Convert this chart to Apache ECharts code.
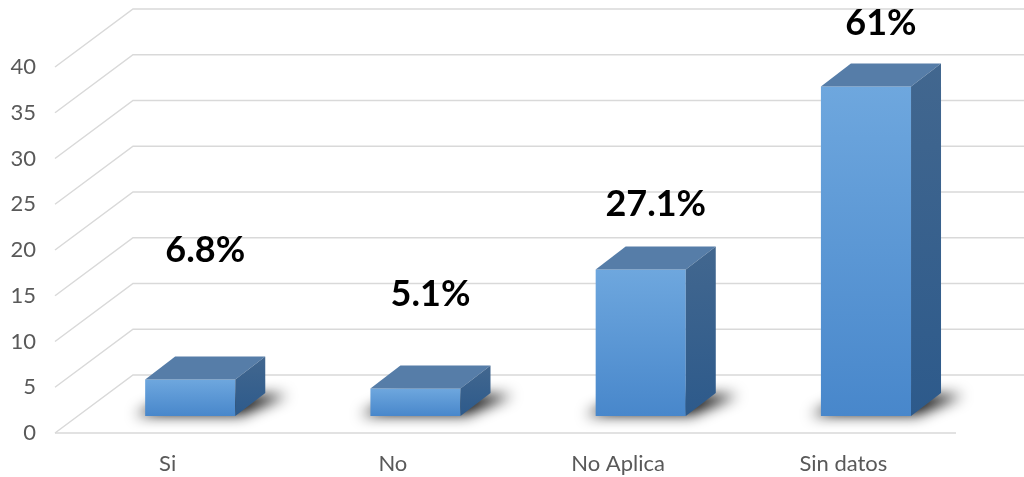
<!DOCTYPE html>
<html>
<head>
<meta charset="utf-8">
<script src="https://cdn.jsdelivr.net/npm/echarts@6/dist/echarts.min.js"></script>
<style>
  html, body { margin: 0; padding: 0; background: #fff; }
  #chart { width: 1024px; height: 477px; }
</style>
</head>
<body>
<div id="chart"></div>
<script>
// chart data
const categories = ['Si', 'No', 'No Aplica', 'Sin datos'];
const counts = [4, 3, 16, 36];
const percentLabels = ['6.8%', '5.1%', '27.1%', '61%'];
const yTicks = [0, 5, 10, 15, 20, 25, 30, 35, 40];

// 3d look (pixels)
const wallDx = 78, wallDy = -58;      // depth of floor / back wall
const barDx = 22.6, barDy = -17;      // where the bar front sits inside the floor
const barDepthX = 30, barDepthY = -23;
const labelLift = [129, 94, 65, 63];  // label centre above bar top, as placed in the original
const far = 3000;                     // shadow is cast from off screen so only the blur shows

const chart = echarts.init(document.getElementById('chart'));

const gridRender = (params, api) => {
    const cs = params.coordSys;
    const y = api.coord([0, api.value(1)])[1];
    const x = cs.x;
    const style = { stroke: '#d9d9d9', lineWidth: 1.5, fill: null };
    const children = [{
        type: 'polyline',
        shape: { points: [[x, y], [x + wallDx, y + wallDy], [cs.x + cs.width + wallDx, y + wallDy]] },
        style: style
    }];
    if (api.value(1) === 0) {
        children.push({
            type: 'line',
            shape: { x1: x, y1: y, x2: cs.x + cs.width, y2: y },
            style: style
        });
    }
    return { type: 'group', children: children };
};

const barRender = (params, api) => {
    const idx = api.value(0);
    const top = api.coord([idx, api.value(1)]);
    const base = api.coord([idx, 0]);
    const band = api.size([1, 0])[0];
    const w = band * 0.4;
    const x0 = top[0] + barDx - w / 2;
    const x1 = x0 + w;
    const yt = top[1] + barDy;
    const yb = base[1] + barDy;
    const dx = barDepthX, dy = barDepthY;
    return {
        type: 'group',
        children: [
            {
                type: 'polygon',
                shape: {
                    points: [[x0 - 10 - far, yb - 1], [x1 + 6 - far, yb - 1],
                             [x1 + dx + 22 - far, yb + dy + 2], [x0 + dx - far, yb + dy + 2]]
                },
                style: {
                    fill: '#000',
                    shadowBlur: 14,
                    shadowColor: 'rgba(0,0,0,0.95)',
                    shadowOffsetX: far
                }
            },
            {
                type: 'rect',
                shape: { x: x0, y: yt, width: w, height: yb - yt },
                style: {
                    fill: new echarts.graphic.LinearGradient(0, 0, 0, 1, [
                        { offset: 0, color: '#6ea7de' },
                        { offset: 1, color: '#4887cb' }
                    ])
                }
            },
            {
                type: 'polygon',
                shape: { points: [[x0, yt], [x1, yt], [x1 + dx, yt + dy], [x0 + dx, yt + dy]] },
                style: { fill: '#567da8' }
            },
            {
                type: 'polygon',
                shape: { points: [[x1, yt], [x1 + dx, yt + dy], [x1 + dx, yb + dy], [x1, yb]] },
                style: {
                    fill: new echarts.graphic.LinearGradient(0, 0, 0, 1, [
                        { offset: 0, color: '#42678f' },
                        { offset: 1, color: '#2d5a8b' }
                    ])
                }
            },
            {
                type: 'text',
                x: x0 + w / 2 + dx / 2,
                y: yt - labelLift[idx],
                style: {
                    text: percentLabels[idx],
                    fill: '#000',
                    font: 'bold 36px Lato',
                    align: 'center',
                    verticalAlign: 'middle'
                }
            }
        ]
    };
};

const option = {
    animation: false,
    grid: { left: 55, right: 68, top: 67, bottom: 44 },
    xAxis: {
        type: 'category',
        data: categories,
        axisLine: { show: false },
        axisTick: { show: false },
        axisLabel: { color: '#595959', fontSize: 22, fontFamily: 'Lato', margin: 20 }
    },
    yAxis: {
        type: 'value',
        min: 0,
        max: 40,
        interval: 5,
        axisLine: { show: false },
        axisTick: { show: false },
        splitLine: { show: false },
        axisLabel: { color: '#595959', fontSize: 22, fontFamily: 'Lato', margin: 19 }
    },
    series: [
        {
            type: 'custom',
            renderItem: gridRender,
            encode: { x: 0, y: 1 },
            data: yTicks.map(v => [0, v]),
            silent: true,
            z: 1
        },
        {
            type: 'custom',
            renderItem: barRender,
            encode: { x: 0, y: 1 },
            data: counts.map((v, i) => [i, v]),
            z: 2
        }
    ]
};

chart.setOption(option);
</script>
</body>
</html>
